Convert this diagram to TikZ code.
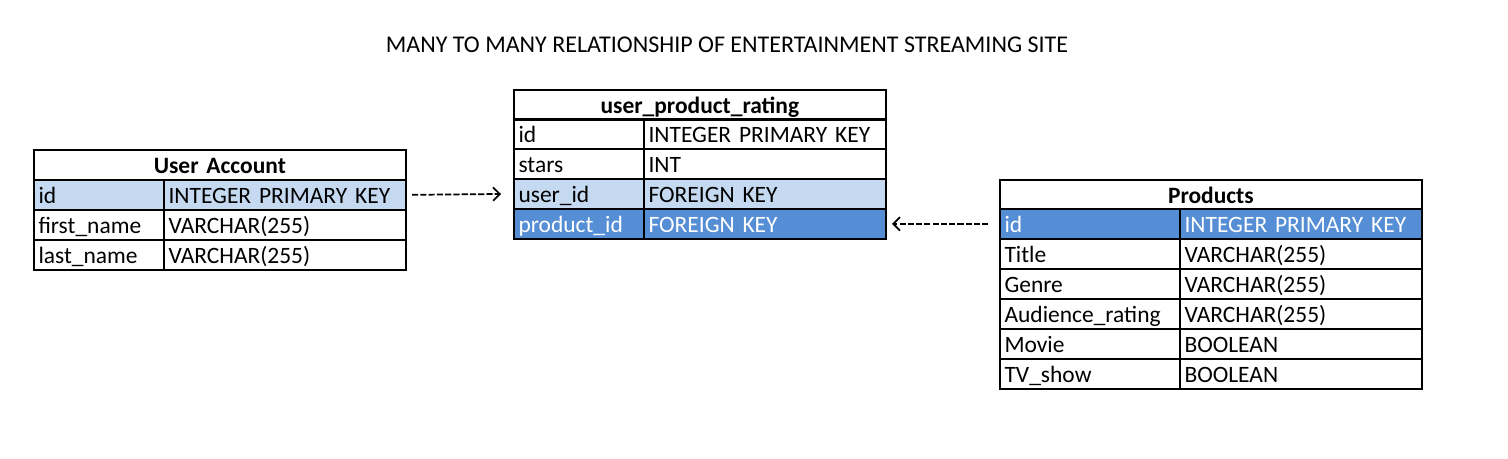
\documentclass[tikz,border=0pt]{standalone}
\usepackage{fontspec}
\setmainfont{Carlito}
\usetikzlibrary{arrows.meta}
\definecolor{lightblue}{HTML}{C5D9F1}
\definecolor{darkblue}{HTML}{558ED5}
\tikzset{
  cell/.style={draw=black, line width=1.3pt, anchor=north west, minimum height=22.5pt,
    inner xsep=3.5pt, inner ysep=0pt, text height=14.3pt, text depth=1.7pt,
    font=\fontsize{17.6}{20}\selectfont, align=left},
  namecol/.style={cell, text width=90.5pt},
  namewide/.style={cell, text width=128pt},
  typecol/.style={cell, text width=174.5pt},
  head/.style={cell, font=\fontsize{17.6}{20}\selectfont\bfseries, align=center},
  hl/.style={fill=lightblue},
  hd/.style={fill=darkblue, text=white},
  conn/.style={line width=1.3pt, dash pattern=on 4.6pt off 1.6pt, -{Straight Barb[length=5pt,width=10pt,line width=1.3pt]}}
}
\begin{document}
\begin{tikzpicture}[x=0.75pt,y=-0.75pt]
\useasboundingbox (0,0) rectangle (1508,458);
\node[font=\fontsize{18}{20}\selectfont] (title) at (727,45) {MANY TO MANY RELATIONSHIP OF ENTERTAINMENT STREAMING SITE};

% User Account
\node[head, text width=272pt] (ua) at (33,149) {User Account};
\node[namecol,hl] (ua1n) at (33,179) {id};
\node[typecol,hl] (ua1t) at (163,179) {INTEGER PRIMARY KEY};
\node[namecol] (ua2n) at (33,209) {first\_name};
\node[typecol] (ua2t) at (163,209) {VARCHAR(255)};
\node[namecol] (ua3n) at (33,239) {last\_name};
\node[typecol] (ua3t) at (163,239) {VARCHAR(255)};

% user_product_rating
\node[head, text width=272pt] (upr) at (513,89) {user\_product\_rating};
\node[namecol] (upr1n) at (513,118) {id};
\node[typecol] (upr1t) at (643,118) {INTEGER PRIMARY KEY};
\node[namecol] (upr2n) at (513,148) {stars};
\node[typecol] (upr2t) at (643,148) {INT};
\node[namecol,hl] (upr3n) at (513,178) {user\_id};
\node[typecol,hl] (upr3t) at (643,178) {FOREIGN KEY};
\node[namecol,hd] (upr4n) at (513,208) {product\_id};
\node[typecol,hd] (upr4t) at (643,208) {FOREIGN KEY};

% Products
\node[head, text width=309.5pt] (pr) at (999,179) {Products};
\node[namewide,hd] (pr1n) at (999,208) {id};
\node[typecol,hd] (pr1t) at (1179,208) {INTEGER PRIMARY KEY};
\node[namewide] (pr2n) at (999,238) {Title};
\node[typecol] (pr2t) at (1179,238) {VARCHAR(255)};
\node[namewide] (pr3n) at (999,268) {Genre};
\node[typecol] (pr3t) at (1179,268) {VARCHAR(255)};
\node[namewide] (pr4n) at (999,298) {Audience\_rating};
\node[typecol] (pr4t) at (1179,298) {VARCHAR(255)};
\node[namewide] (pr5n) at (999,328) {Movie};
\node[typecol] (pr5t) at (1179,328) {BOOLEAN};
\node[namewide] (pr6n) at (999,358) {TV\_show};
\node[typecol] (pr6t) at (1179,358) {BOOLEAN};

% connectors
\draw[conn, shorten <=4pt, shorten >=9pt] (ua1t.east) -- (upr3n.west);
\draw[conn, shorten <=8pt, shorten >=4pt] (pr1n.west) -- (upr4t.east);
\end{tikzpicture}
\end{document}
